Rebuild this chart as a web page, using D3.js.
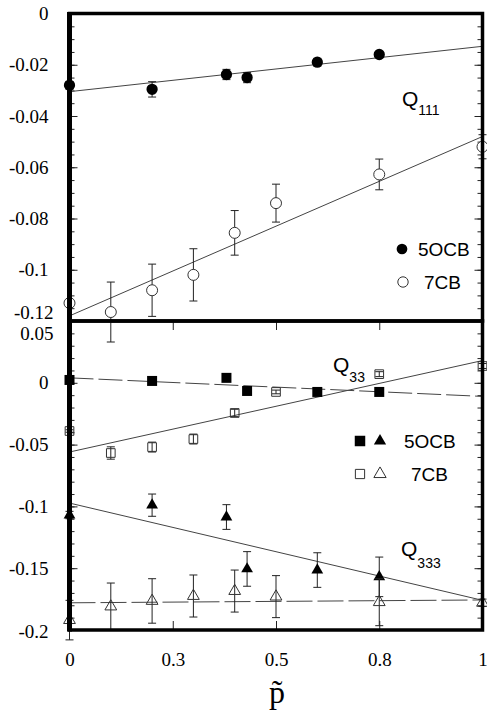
<!DOCTYPE html>
<html><head><meta charset="utf-8">
<script src="https://cdn.jsdelivr.net/npm/d3@7/dist/d3.min.js"></script>
<style>body{margin:0;background:#fff}svg{display:block}</style>
</head><body>
<script>
// ---- data ----
const x5 = [0, 0.2, 0.38, 0.43, 0.6, 0.75];
const x7 = [0, 0.1, 0.2, 0.3, 0.4, 0.5, 0.75, 1];
const q111_5 = [-0.028, -0.0296, -0.0238, -0.025, -0.019, -0.016];
const q111_5err = [0.0015, 0.003, 0.002, 0.002, 0.0015, 0.001];
const q111_7 = [-0.113, -0.1165, -0.108, -0.102, -0.0856, -0.074, -0.0628, -0.052];
const q111_7err = [0.001, 0.0117, 0.0102, 0.0102, 0.0087, 0.0074, 0.006, 0.0047];
const q33_5 = [0.0023, 0.0015, 0.004, -0.0066, -0.0074, -0.0074];
const q33_5err = [0.001, 0.001, 0.001, 0.001, 0.001, 0.001];
const q33_7 = [-0.039, -0.0568, -0.052, -0.0455, -0.0244, -0.0074, 0.007, 0.0136];
const q33_7err = [0.001, 0.005, 0.004, 0.004, 0.003, 0.0015, 0.002, 0.002];
const q333_5 = [-0.107, -0.099, -0.1086, -0.1506, -0.1515, -0.157];
const q333_5err = [0.003, 0.009, 0.010, 0.014, 0.014, 0.016];
const q333_7 = [-0.192, -0.181, -0.1765, -0.1725, -0.1685, -0.173, -0.1775, -0.178];
const q333_7err = [0.016, 0.019, 0.018, 0.017, 0.017, 0.017, 0.019, 0.003];
const fitX = [0, 1];
const fit111_5 = [-0.0305, -0.0128];
const fit111_7 = [-0.118, -0.048];
const fit33_5 = [0.004, -0.011];
const fit33_7 = [-0.056, 0.018];
const fit333_5 = [-0.0973, -0.176];
const fit333_7 = [-0.178, -0.1757];
const xTicks = [0, 0.25, 0.5, 0.75, 1];
const xTickLabels = ["0", "0.3", "0.5", "0.8", "1"];
const yTopTicks = [0, -0.02, -0.04, -0.06, -0.08, -0.1, -0.12];
const yBotTicks = [0.05, 0, -0.05, -0.1, -0.15, -0.2];

// ---- layout ----
const W = 487, H = 711;
const L = 69.5, R = 482.5, T = 13.5, MID = 321, B = 630;
const svg = d3.select("body").append("svg").attr("width", W).attr("height", H);
const x = d3.scaleLinear().domain([0, 1]).range([L, R]);
const yT = d3.scaleLinear().domain([-0.12, 0]).range([MID, T]);
const yB = d3.scaleLinear().domain([-0.2, 0.05]).range([B, MID]);
const fmt = d => String(+(+d).toFixed(3));
const serif = "'Liberation Serif','Times New Roman',serif";
const sans = "'Liberation Sans',Arial,Helvetica,sans-serif";

function yAxes(y, majors, minorStep) {
  const [lo, hi] = y.domain();
  const minors = d3.range(Math.round(lo / minorStep), Math.round(hi / minorStep) + 1).map(i => i * minorStep);
  const gL = svg.append("g").attr("transform", `translate(${L},0)`)
    .call(d3.axisLeft(y).tickValues(minors).tickSize(-5).tickFormat(""));
  const gR = svg.append("g").attr("transform", `translate(${R},0)`)
    .call(d3.axisRight(y).tickValues(minors).tickSize(-5).tickFormat(""));
  const gLM = svg.append("g").attr("transform", `translate(${L},0)`)
    .call(d3.axisLeft(y).tickValues(majors).tickSize(-8).tickPadding(21).tickFormat(fmt));
  const gRM = svg.append("g").attr("transform", `translate(${R},0)`)
    .call(d3.axisRight(y).tickValues(majors).tickSize(-8).tickFormat(""));
  [gL, gR, gLM, gRM].forEach(g => {
    g.select(".domain").remove();
    g.selectAll("line").attr("stroke", "#222").attr("stroke-width", 1);
  });
  gLM.selectAll("text").attr("font-family", serif).attr("font-size", 19).attr("fill", "#000");
  return gLM;
}
const gTopY = yAxes(yT, yTopTicks, 0.005);
const gBotY = yAxes(yB, yBotTicks, 0.01);
gTopY.selectAll(".tick").filter(d => Math.abs(d + 0.12) < 1e-9).select("text").attr("dy", "-0.15em").attr("dx", 5);
gBotY.selectAll(".tick").filter(d => Math.abs(d - 0.05) < 1e-9).select("text").attr("dy", "0.95em").attr("dx", 5);
gBotY.selectAll(".tick").filter(d => Math.abs(d + 0.2) < 1e-9).select("text").attr("dy", "0.42em");

// x ticks in bottom panel (inward top and bottom)
const inner = xTicks.slice(1, -1);
[[B, d3.axisBottom], [MID, d3.axisTop]].forEach(([yy, ax]) => {
  const g = svg.append("g").attr("transform", `translate(0,${yy})`)
    .call(ax(x).tickValues(inner).tickSize(-9).tickFormat(""));
  g.select(".domain").remove();
  g.selectAll("line").attr("stroke", "#222").attr("stroke-width", 1);
});
const gX = svg.append("g").attr("transform", `translate(0,${B})`)
  .call(d3.axisBottom(x).tickValues(xTicks).tickSize(0).tickPadding(23)
    .tickFormat((d, i) => xTickLabels[i]));
gX.select(".domain").remove();
gX.selectAll("text").attr("font-family", serif).attr("font-size", 19).attr("fill", "#000");

// axis title
svg.append("text").attr("x", 277).attr("y", 703).attr("text-anchor", "middle")
  .attr("font-family", serif).attr("font-size", 32).text("p\u0303");

// ---- fit lines ----
function fit(y, vals, dash) {
  svg.append("path")
    .datum(fitX.map((v, i) => [v, vals[i]]))
    .attr("d", d3.line().x(d => x(d[0])).y(d => y(d[1])))
    .attr("fill", "none").attr("stroke", "#444").attr("stroke-width", 1)
    .attr("stroke-dasharray", dash || null);
}
fit(yT, fit111_5); fit(yT, fit111_7);
fit(yB, fit33_5, "24,5"); fit(yB, fit33_7);
fit(yB, fit333_5); fit(yB, fit333_7, "26,5");

// ---- error bars & markers ----
function series(y, xs, vals, errs, type, filled, size) {
  const data = xs.map((v, i) => ({ x: v, y: vals[i], e: errs[i] }));
  const g = svg.append("g");
  const eb = g.selectAll("g.eb").data(data).join("g").attr("stroke", "#222").attr("stroke-width", 1);
  eb.append("line").attr("x1", d => x(d.x)).attr("x2", d => x(d.x))
    .attr("y1", d => y(d.y - d.e)).attr("y2", d => y(d.y + d.e));
  eb.append("line").attr("x1", d => x(d.x) - 4).attr("x2", d => x(d.x) + 4)
    .attr("y1", d => y(d.y - d.e)).attr("y2", d => y(d.y - d.e));
  eb.append("line").attr("x1", d => x(d.x) - 4).attr("x2", d => x(d.x) + 4)
    .attr("y1", d => y(d.y + d.e)).attr("y2", d => y(d.y + d.e));
  const sym = d3.symbol().type(type).size(size);
  g.selectAll("path.m").data(data).join("path")
    .attr("transform", d => `translate(${x(d.x)},${y(d.y)})`)
    .attr("d", sym)
    .attr("fill", filled ? "#000" : (type === d3.symbolCircle ? "#fff" : "none"))
    .attr("stroke", filled ? "none" : "#333").attr("stroke-width", 1);
}
series(yT, x5, q111_5, q111_5err, d3.symbolCircle, true, 100);
series(yT, x7, q111_7, q111_7err, d3.symbolCircle, false, 95);
series(yB, x5, q33_5, q33_5err, d3.symbolSquare, true, 100);
series(yB, x7, q33_7, q33_7err, d3.symbolSquare, false, 75);
series(yB, x5, q333_5, q333_5err, d3.symbolTriangle, true, 60);
series(yB, x7, q333_7, q333_7err, d3.symbolTriangle, false, 60);

// ---- frames ----
[[T, MID], [MID, B]].forEach(([t, b]) => {
  svg.append("rect").attr("x", L).attr("y", t).attr("width", R - L).attr("height", b - t)
    .attr("fill", "none").attr("stroke", "#000").attr("stroke-width", 3.5);
});
svg.append("line").attr("x1", L).attr("x2", L).attr("y1", T - 1.5).attr("y2", B + 1.5)
  .attr("stroke", "#000").attr("stroke-width", 5);

// ---- labels ----
function qlabel(xx, yy, sub, dy) {
  const t = svg.append("text").attr("x", xx).attr("y", yy).attr("font-family", sans).attr("font-size", 21);
  t.append("tspan").text("Q");
  t.append("tspan").attr("dy", dy).attr("font-size", 14).text(sub);
}
qlabel(402, 106, "111", 9);
qlabel(333, 372, "33", 10);
qlabel(401, 556, "333", 12);

function legItem(items, tx, ty, label) {
  items.forEach(([type, cx, filled, size]) => {
    svg.append("path").attr("transform", `translate(${cx},${ty})`)
      .attr("d", d3.symbol().type(type).size(size))
      .attr("fill", filled ? "#000" : "none").attr("stroke", filled ? "none" : "#333");
  });
  svg.append("text").attr("x", tx).attr("y", ty + 7).attr("font-family", sans).attr("font-size", 19).text(label);
}
legItem([[d3.symbolCircle, 402, true, 90]], 418, 249, "5OCB");
legItem([[d3.symbolCircle, 403, false, 85]], 424, 282, "7CB");
legItem([[d3.symbolSquare, 360, true, 110], [d3.symbolTriangle, 380, true, 65]], 404, 441, "5OCB");
legItem([[d3.symbolSquare, 360, false, 85], [d3.symbolTriangle, 380, false, 65]], 411, 474, "7CB");
</script>
</body></html>
